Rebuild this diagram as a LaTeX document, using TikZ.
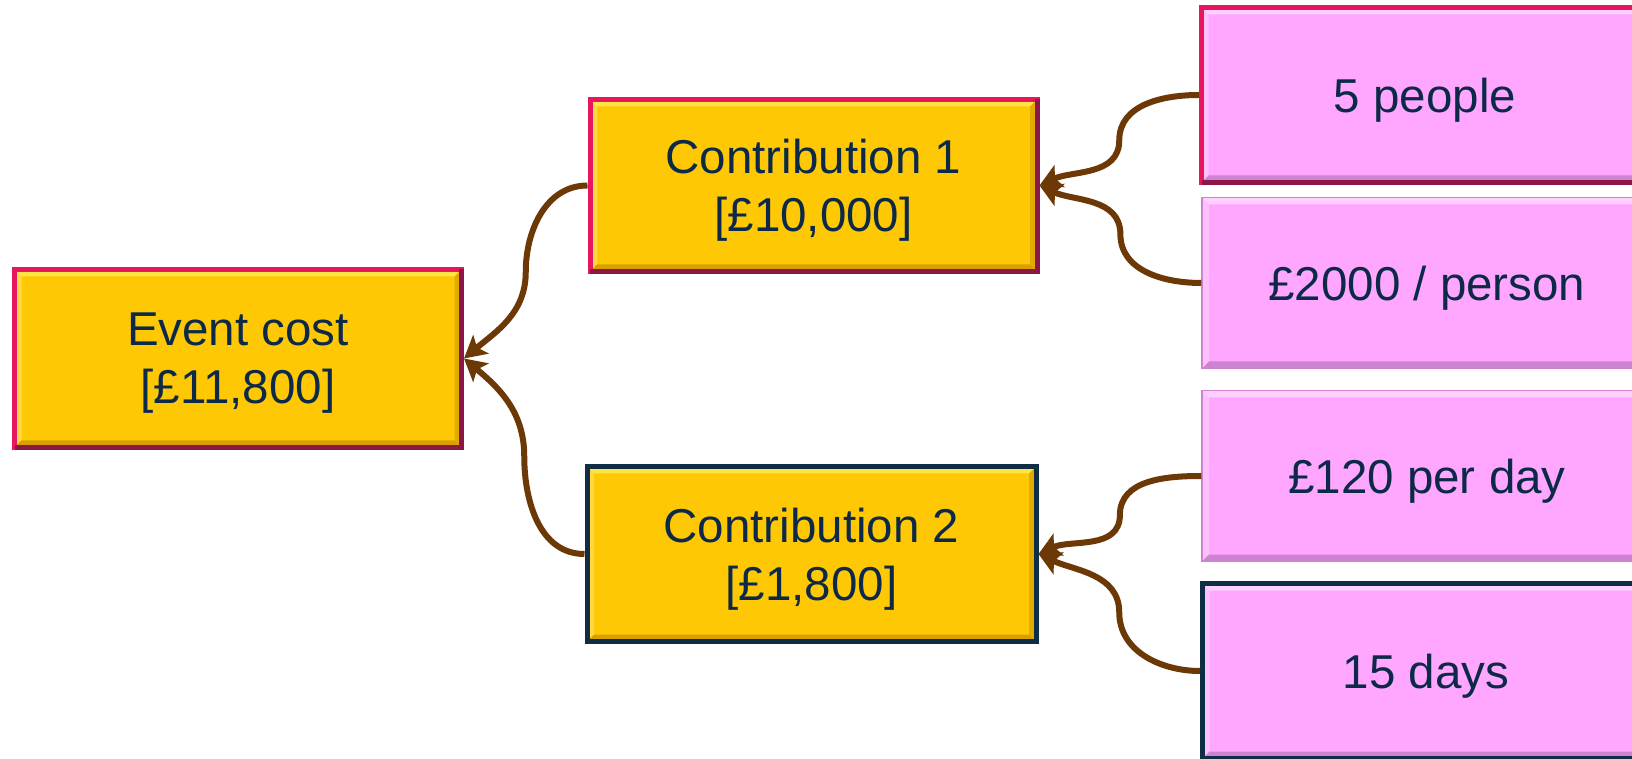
\documentclass[tikz,border=0pt]{standalone}
\usepackage{fontspec}
\setmainfont{Liberation Sans}
\usetikzlibrary{arrows.meta,calc}
\definecolor{txt}{RGB}{12,42,72}
\definecolor{goldf}{RGB}{255,200,5}
\definecolor{goldlt}{RGB}{255,228,70}
\definecolor{golddk}{RGB}{215,160,0}
\definecolor{pinkf}{RGB}{255,166,255}
\definecolor{pinklt}{RGB}{255,208,255}
\definecolor{pinkdk}{RGB}{205,130,210}
\definecolor{redbd}{RGB}{232,22,95}
\definecolor{reddk}{RGB}{140,22,70}
\definecolor{navybd}{RGB}{15,45,68}
\definecolor{conncol}{RGB}{108,56,6}
\newcommand{\dn}[1]{\raisebox{-5pt}[\height][\depth]{#1}}
\tikzset{
  bevel/.style 2 args={path picture={
    \path (path picture bounding box.south west) coordinate (pA)
          (path picture bounding box.north east) coordinate (pB)
          (path picture bounding box.north west) coordinate (pC)
          (path picture bounding box.south east) coordinate (pD);
    \fill[#1] (pC) -- (pB) -- ([shift={(-7pt,-7pt)}]pB) -- ([shift={(7pt,-7pt)}]pC) -- cycle;
    \fill[#1!50!white,opacity=0.4] (pC) -- (pA) -- ([shift={(7pt,7pt)}]pA) -- ([shift={(7pt,-7pt)}]pC) -- cycle;
    \fill[#2] (pA) -- (pD) -- ([shift={(-7pt,7pt)}]pD) -- ([shift={(7pt,7pt)}]pA) -- cycle;
    \fill[#2,opacity=0.7] (pD) -- (pB) -- ([shift={(-7pt,-7pt)}]pB) -- ([shift={(-7pt,7pt)}]pD) -- cycle;
  }},
  box/.style={draw, line width=5pt, inner sep=0pt, align=center,
    font=\fontsize{47.5}{58}\selectfont, text=txt},
  goldbox/.style={box, fill=goldf, bevel={goldlt}{golddk}},
  pinkbox/.style={box, fill=pinkf, bevel={pinklt}{pinkdk}},
  redframe/.style={draw=redbd},
  navyframe/.style={draw=navybd},
  softframe/.style={draw=pinkdk, line width=1.5pt},
  darkedge/.style={draw=reddk, line width=5pt},
  conn/.style={draw=conncol, line width=6pt, -{Stealth[length=22pt,width=24pt,inset=5pt]}},
}
\begin{document}
\begin{tikzpicture}[x=1pt,y=1pt]
\useasboundingbox (0,0) rectangle (1632,758);
\fill[white] (0,0) rectangle (1632,758);
\node[goldbox, redframe, minimum width=447, minimum height=178] (ev) at (238,399.5) {\dn{Event cost}\\\dn{[£11,800]}};
\node[goldbox, redframe, minimum width=447, minimum height=172] (c1) at (813.5,572.5) {\dn{Contribution 1}\\\dn{[£10,000]}};
\node[goldbox, navyframe, minimum width=449, minimum height=175] (c2) at (811.5,204) {\dn{Contribution 2}\\\dn{[£1,800]}};
\node[pinkbox, redframe, minimum width=447, minimum height=175] (p1) at (1425,663) {\dn{5 people}};
\node[pinkbox, softframe, minimum width=450, minimum height=171] (p2) at (1427,475) {\dn{£2000 / person}};
\node[pinkbox, softframe, minimum width=450, minimum height=171] (p3) at (1427,282) {\dn{£120 per day}};
\node[pinkbox, navyframe, minimum width=447, minimum height=175] (p4) at (1426,87) {\dn{15 days}};
\foreach \n in {ev,c1,p1}
  \draw[darkedge] ([shift={(-2.5pt,-2.5pt)}]\n.north east) -- ([shift={(-2.5pt,0pt)}]\n.south east)
    ([shift={(0pt,2.5pt)}]\n.south east) -- ([shift={(2.5pt,2.5pt)}]\n.south west);
\coordinate (m1) at ($(c1.west)!0.5!(ev.east)$);
\coordinate (m2) at ($(c2.west)!0.5!(ev.east)$);
\coordinate (m3) at ($(p1.west)!0.5!(c1.east)$);
\coordinate (m4) at ($(p2.west)!0.5!(c1.east)$);
\coordinate (m5) at ($(p3.west)!0.5!(c2.east)$);
\coordinate (m6) at ($(p4.west)!0.5!(c2.east)$);
\draw[conn] (c1.west) to[out=180,in=90] (m1) to[out=-90,in=40] (ev.east);
\draw[conn] (c2.west) to[out=180,in=-90] (m2) to[out=90,in=-40] (ev.east);
\draw[conn] (p1.west) to[out=180,in=90] (m3) to[out=-90,in=25] (c1.east);
\draw[conn] (p2.west) to[out=180,in=-90] (m4) to[out=90,in=-25] (c1.east);
\draw[conn] (p3.west) to[out=180,in=90] (m5) to[out=-90,in=25] (c2.east);
\draw[conn] (p4.west) to[out=180,in=-90] (m6) to[out=90,in=-25] (c2.east);
\end{tikzpicture}
\end{document}
